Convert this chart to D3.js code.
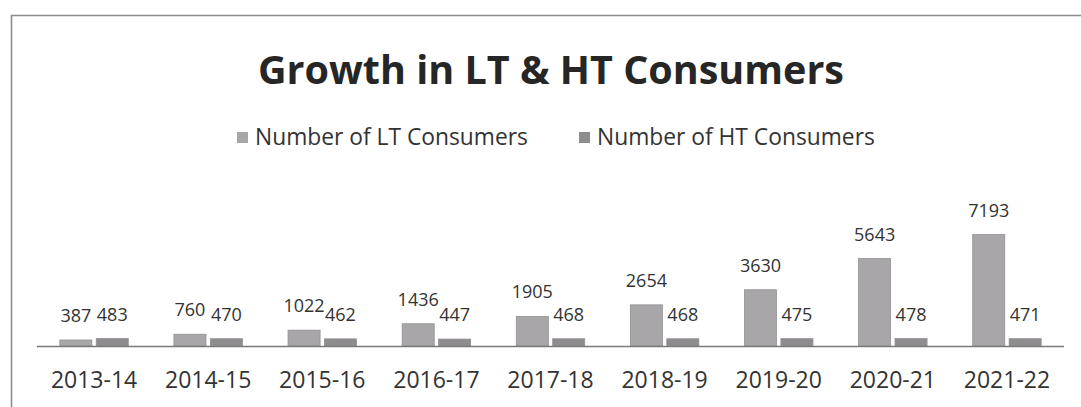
<!DOCTYPE html>
<html>
<head>
<meta charset="utf-8">
<script src="https://cdn.jsdelivr.net/npm/d3@7"></script>
<style>
  html, body { margin: 0; padding: 0; background: #ffffff; }
  svg { display: block; }
  text { font-family: "Open Sans", Lato, "Noto Sans", sans-serif; fill: #2e2e2e; }
</style>
</head>
<body>
<svg id="chart" width="1081" height="407"></svg>
<script>
// Financial years on the category axis
const years = ["2013-14", "2014-15", "2015-16", "2016-17", "2017-18",
               "2018-19", "2019-20", "2020-21", "2021-22"];
// Consumer counts per year
const ltConsumers = [387, 760, 1022, 1436, 1905, 2654, 3630, 5643, 7193];
const htConsumers = [483, 470, 462, 447, 468, 468, 475, 478, 471];
const seriesNames = ["Number of LT Consumers", "Number of HT Consumers"];
const seriesColors = ["#a8a6a8", "#8e8c8e"];
const chartTitle = "Growth in LT & HT Consumers";

const svg = d3.select("#chart");

// Outer chart frame (top and left edges visible)
svg.append("path")
  .attr("d", "M11.5,407 L11.5,15.5 L1081,15.5")
  .attr("fill", "none")
  .attr("stroke", "#8c8c8c")
  .attr("stroke-width", 1.6);

// Title
svg.append("text")
  .attr("x", 551).attr("y", 84)
  .attr("text-anchor", "middle")
  .style("font-weight", "700")
  .style("font-size", "39.5px")
  .style("fill", "#262626")
  .text(chartTitle);

// Legend
const legendX = [237, 579];
const legend = svg.append("g");
seriesNames.forEach((name, i) => {
  legend.append("rect")
    .attr("x", legendX[i]).attr("y", 132)
    .attr("width", 11).attr("height", 11)
    .attr("fill", seriesColors[i]);
  legend.append("text")
    .attr("x", legendX[i] + 18).attr("y", 145)
    .style("font-size", "22.8px")
    .style("fill", "#333")
    .text(name);
});

// Scales
const x0 = d3.scaleBand().domain(years).range([37, 1064]).paddingInner(0.4).paddingOuter(0.2);
const x1 = d3.scaleBand().domain([0, 1]).range([0, x0.bandwidth()]).paddingInner(0.12);
const y = d3.scaleLinear().domain([0, 8000]).range([346, 222]);

const rows = years.map((yr, i) => ({ year: yr, values: [ltConsumers[i], htConsumers[i]] }));

const groups = svg.append("g").selectAll("g")
  .data(rows).join("g")
  .attr("transform", d => `translate(${x0(d.year)},0)`);

groups.selectAll("rect")
  .data(d => d.values.map((v, k) => ({ k, v })))
  .join("rect")
  .attr("x", d => x1(d.k))
  .attr("y", d => y(d.v))
  .attr("width", x1.bandwidth())
  .attr("height", d => y(0) - y(d.v))
  .attr("fill", d => seriesColors[d.k])
  .attr("stroke", "#939193")
  .attr("stroke-width", 0.8);

// Data labels
groups.selectAll("text.val")
  .data(d => d.values.map((v, k) => ({ k, v })))
  .join("text")
  .attr("class", "val")
  .attr("x", d => x1(d.k) + x1.bandwidth() / 2)
  .attr("y", d => y(d.v) - 18)
  .attr("text-anchor", "middle")
  .style("font-size", "18px")
  .style("fill", "#333")
  .text(d => d.v);

// Category axis
const xAxis = d3.axisBottom(x0).tickSize(0).tickPadding(0).tickSizeOuter(0);
const axisG = svg.append("g").attr("transform", "translate(0,346)").call(xAxis);
axisG.select(".domain")
  .attr("d", "M37,0.5H1064")
  .attr("stroke", "#7a7a7a")
  .attr("stroke-width", 1.4);
axisG.selectAll(".tick text")
  .attr("y", 42)
  .attr("dy", null)
  .style("font-size", "23px")
  .style("fill", "#333");
</script>
</body>
</html>
